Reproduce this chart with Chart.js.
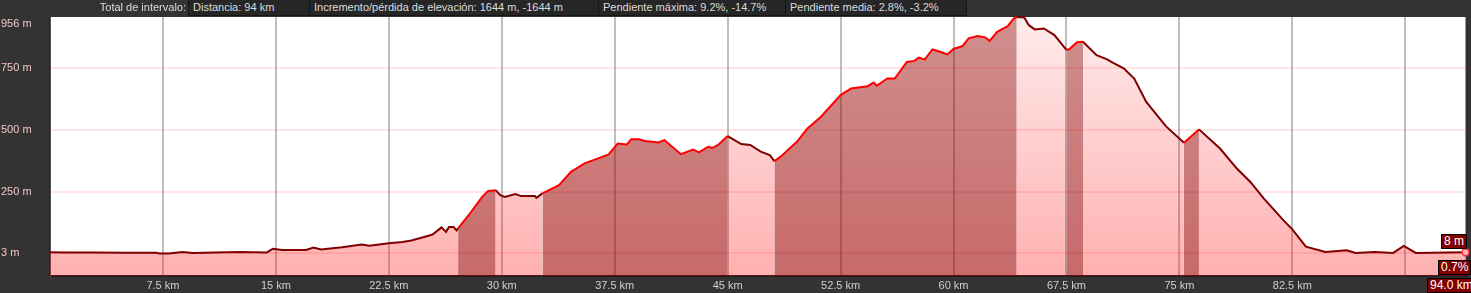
<!DOCTYPE html>
<html>
<head>
<meta charset="utf-8">
<script src="https://cdn.jsdelivr.net/npm/chart.js@4/dist/chart.umd.min.js"></script>
<style>
  html, body { margin: 0; padding: 0; background: #333333; }
  #wrap { position: relative; width: 1471px; height: 293px; overflow: hidden;
          font-family: "Liberation Sans", Arial, sans-serif; font-size: 11px; }
  canvas { position: absolute; left: 0; top: 0; }
  .hdr { position: absolute; top: 0; height: 15px; line-height: 15px; color: #dddddd; white-space: nowrap; }
  .box { background: #262626; border: 1px solid #151515; border-top: none; padding-left: 4px; box-sizing: border-box; height: 16px; }
  .tag { position: absolute; background: #800000; border: 1px solid #000; color: #fff;
         font-size: 12px; line-height: 13px; padding: 0 2px; white-space: nowrap; }
</style>
</head>
<body>
<div id="wrap">
  <canvas id="perfil" width="1471" height="293"></canvas>
  <div class="hdr" style="left:0;width:186px;text-align:right;">Total de intervalo:</div>
  <div class="hdr box" style="left:188px;width:122px;">Distancia: 94 km</div>
  <div class="hdr box" style="left:309px;width:290px;">Incremento/pérdida de elevación: 1644 m, -1644 m</div>
  <div class="hdr box" style="left:598px;width:188px;">Pendiente máxima: 9.2%, -14.7%</div>
  <div class="hdr box" style="left:785px;width:182px;">Pendiente media: 2.8%, -3.2%</div>
  <div class="tag" style="left:1441px;top:234px;">8 m</div>
  <div class="tag" style="left:1438px;top:260px;">0.7%</div>
  <div class="tag" style="left:1427px;top:278px;">94.0 km</div>
</div>
<script>
const distKm = [0, 1, 3, 5, 7, 7.3, 7.9, 8.8, 9.5, 11, 12.6, 14.4, 14.8, 15.4, 17, 17.5, 18, 19.4,
  20.7, 21.2, 22.5, 23.4, 24, 24.9, 25.4, 26, 26.3, 26.5, 26.8, 27, 27.1, 27.8, 28.7, 29.1, 29.6,
  29.9, 30.2, 30.9, 31.3, 32.2, 32.3, 32.7, 33.8, 34.6, 35.5, 36.4, 37.1, 37.7, 38.3, 38.6, 39.1,
  39.5, 40.4, 40.8, 41.9, 42.7, 43.1, 43.7, 44, 44.4, 45, 45.9, 46.5, 47.2, 47.8, 48.1, 48.5, 49.6,
  50.3, 51.2, 52.5, 53.2, 54.3, 54.7, 54.9, 55.6, 56.1, 56.9, 57.4, 57.7, 58.1, 58.6, 59.1, 59.6,
  60, 60.6, 61, 61.6, 62.1, 62.4, 62.9, 63.6, 64, 64.2, 64.7, 65, 65.4, 66, 66.7, 67.5, 67.7, 68.2,
  68.6, 69.5, 70.2, 70.6, 71.3, 72, 72.8, 74.1, 75.3, 76.3, 77.7, 78.8, 79.7, 80.6, 81.9, 82.5,
  83.4, 84.7, 86.1, 86.7, 88, 89.2, 89.9, 90.7, 94];
const altitud = [8, 7, 7, 6, 6, 3, 3, 9, 5, 7, 9, 7, 22, 17, 17, 27, 19, 28,
  39, 34, 44, 49, 55, 70, 79, 108, 90, 110, 110, 96, 104, 157, 231, 255, 258,
  238, 231, 242, 234, 234, 227, 245, 278, 332, 366, 386, 402, 446, 442, 463, 463,
  456, 450, 460, 403, 422, 410, 433, 428, 442, 476, 444, 440, 413, 399, 375, 392, 453,
  507, 554, 641, 668, 677, 692, 679, 708, 708, 775, 779, 792, 785, 825, 816, 805,
  827, 839, 870, 879, 874, 860, 896, 919, 950, 956, 954, 923, 906, 910, 883, 823, 827, 854,
  856, 802, 785, 771, 749, 708, 614, 516, 449, 503, 426, 346, 292, 225, 137, 100,
  30, 9, 16, 5, 9, 5, 33, 5, 8];
// tramos de subida marcados (km inicio, km fin)
const subidas = [[27.1, 29.6], [32.7, 45.0], [48.1, 64.2], [67.5, 68.6], [75.3, 76.3]];
const yTicks = [3, 250, 500, 750, 956];
const xLabelsOcultos = [0, 90];

const puntos = distKm.map((d, i) => ({ x: d, y: altitud[i] }));

function enSubida(ctx) {
  const m = (ctx.p0.parsed.x + ctx.p1.parsed.x) / 2;
  return subidas.some(s => m >= s[0] && m <= s[1]);
}

let grads = null;
function getGrads(chart) {
  const a = chart.chartArea;
  if (!a) return null;
  if (grads && grads.top === a.top && grads.bottom === a.bottom) return grads;
  const c = chart.ctx;
  const claro = c.createLinearGradient(0, a.top, 0, a.bottom);
  claro.addColorStop(0, 'rgba(255,0,0,0.08)');
  claro.addColorStop(1, 'rgba(255,0,0,0.31)');
  const oscuro = c.createLinearGradient(0, a.top, 0, a.bottom);
  oscuro.addColorStop(0, 'rgba(150,0,0,0.44)');
  oscuro.addColorStop(1, 'rgba(160,0,0,0.59)');
  grads = { top: a.top, bottom: a.bottom, claro, oscuro };
  return grads;
}

// fondo blanco del área de trazado
const fondoPlugin = {
  id: 'fondo',
  beforeDraw(chart) {
    const a = chart.chartArea;
    const c = chart.ctx;
    c.save();
    c.fillStyle = '#ffffff';
    c.fillRect(a.left, a.top, a.right - a.left, a.bottom - a.top);
    c.restore();
  }
};

// etiquetas del eje Y a mano para poder encajar la de arriba
const yLabelsPlugin = {
  id: 'yLabels',
  afterDraw(chart) {
    const y = chart.scales.y;
    const c = chart.ctx;
    c.save();
    c.font = '11px "Liberation Sans", Arial, sans-serif';
    c.fillStyle = '#f2c6c6';
    c.textAlign = 'left';
    c.textBaseline = 'middle';
    yTicks.forEach(v => {
      const py = Math.max(y.getPixelForValue(v), chart.chartArea.top + 7);
      c.fillText(v + ' m', 1, py);
    });
    c.restore();
  }
};

new Chart(document.getElementById('perfil'), {
  type: 'line',
  data: {
    datasets: [{
      data: puntos,
      borderWidth: 2,
      borderColor: '#800000',
      backgroundColor: 'rgba(255,0,0,0.3)',
      fill: 'start',
      tension: 0,
      pointRadius: ctx => ctx.dataIndex === puntos.length - 1 ? 3.5 : 0,
      pointBorderColor: '#ff3030',
      pointBackgroundColor: '#ffb3b3',
      pointBorderWidth: 1.5,
      segment: {
        borderColor: ctx => enSubida(ctx) ? '#ff0000' : '#800000',
        backgroundColor: ctx => {
          const g = getGrads(ctx.chart);
          if (enSubida(ctx)) return g ? g.oscuro : 'rgba(155,0,0,0.52)';
          return g ? g.claro : 'rgba(255,0,0,0.2)';
        }
      }
    }]
  },
  options: {
    responsive: false,
    animation: false,
    devicePixelRatio: 1,
    clip: false,
    layout: { padding: { top: 17, right: 1, left: 0, bottom: 0 } },
    plugins: { legend: { display: false }, tooltip: { enabled: false } },
    scales: {
      x: {
        type: 'linear',
        min: 0, max: 94,
        afterBuildTicks: s => { s.ticks = []; for (let v = 0; v <= 90; v += 7.5) s.ticks.push({ value: v }); },
        afterFit: s => { s.height = 17; },
        grid: { color: 'rgba(0,0,0,0.25)', lineWidth: 2, drawTicks: false },
        border: { display: true, color: '#1e1e1e', width: 2 },
        ticks: {
          color: '#d0d0d0',
          font: { family: '"Liberation Sans", Arial, sans-serif', size: 11 },
          padding: 3,
          maxRotation: 0,
          autoSkip: false,
          callback: v => xLabelsOcultos.includes(v) ? '' : v + ' km'
        }
      },
      y: {
        type: 'linear',
        min: -88, max: 956,
        afterBuildTicks: s => { s.ticks = yTicks.map(v => ({ value: v })); },
        afterFit: s => { s.width = 50; },
        grid: {
          color: ctx => ctx.tick && ctx.tick.value === 956 ? 'rgba(0,0,0,0)' : 'rgba(255,0,0,0.1)',
          lineWidth: 2,
          drawTicks: false
        },
        border: { display: true, color: '#555555', width: 1 },
        ticks: { display: false }
      }
    }
  },
  plugins: [fondoPlugin, yLabelsPlugin]
});
</script>
</body>
</html>
